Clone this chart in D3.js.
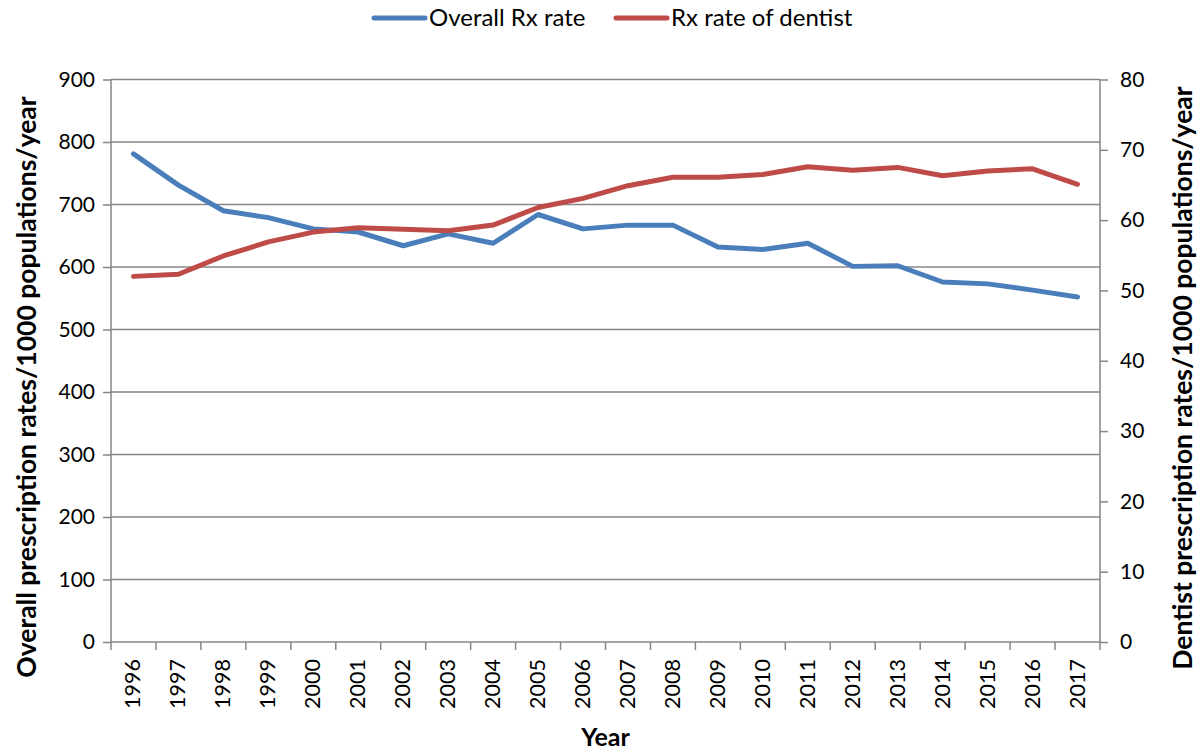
<!DOCTYPE html>
<html>
<head>
<meta charset="utf-8">
<script src="https://cdn.jsdelivr.net/npm/d3@7"></script>
<style>
  body { margin: 0; background: #fff; }
  text { font-family: Lato, "Open Sans", sans-serif; fill: #000; }
</style>
</head>
<body>
<svg id="chart" width="1201" height="755"></svg>
<script>
const years = ["1996","1997","1998","1999","2000","2001","2002","2003","2004","2005","2006",
               "2007","2008","2009","2010","2011","2012","2013","2014","2015","2016","2017"];
const overallRx = [781, 731, 690, 679, 661, 656, 634, 653, 638, 684, 661,
                   667, 667, 632, 628, 638, 601, 602, 576, 573, 563, 552];
const dentistRx = [52.0, 52.3, 54.9, 56.9, 58.3, 58.9, 58.7, 58.5, 59.3, 61.8, 63.1,
                   64.9, 66.1, 66.1, 66.5, 67.6, 67.1, 67.5, 66.3, 67.0, 67.3, 65.1];
const leftTicks = [0, 100, 200, 300, 400, 500, 600, 700, 800, 900];
const rightTicks = [0, 10, 20, 30, 40, 50, 60, 70, 80];

const blue = "#4a7ebb", red = "#be4b48", axisGrey = "#868686";
const margin = {left: 111, right: 101, top: 79.5, bottom: 113};
const w = 1201 - margin.left - margin.right;
const h = 755 - margin.top - margin.bottom;

let svg = d3.select("#chart");
let g = svg.append("g")
    .attr("transform", "translate(" + margin.left + "," + margin.top + ")");

var x = d3.scaleBand().domain(years).range([0, w]);
var yL = d3.scaleLinear().domain([0, 900]).range([h, 0]);
var yR = d3.scaleLinear().domain([0, 80]).range([h, 0]);

// gridlines
g.selectAll(".grid")
    .data(leftTicks.filter(d => d > 0))
    .enter().append("line")
    .attr("x1", 0).attr("x2", w)
    .attr("y1", d => yL(d)).attr("y2", d => yL(d))
    .attr("stroke", axisGrey).attr("stroke-width", 1.5);

// left axis
let la = g.append("g")
    .call(d3.axisLeft(yL).tickValues(leftTicks).tickSize(8).tickPadding(8));
la.select(".domain").remove();
la.selectAll("line").attr("stroke", axisGrey).attr("stroke-width", 1.5);
la.selectAll("text").style("font-size", "21px");
g.append("line").attr("x1", 0).attr("x2", 0).attr("y1", 0).attr("y2", h)
    .attr("stroke", axisGrey).attr("stroke-width", 1.5);

// right axis
let ra = g.append("g")
    .attr("transform", "translate(" + w + ",0)")
    .call(d3.axisRight(yR).tickValues(rightTicks).tickSize(8).tickPadding(12));
ra.select(".domain").remove();
ra.selectAll("line").attr("stroke", axisGrey).attr("stroke-width", 1.5);
ra.selectAll("text").style("font-size", "21px");
g.append("line").attr("x1", w).attr("x2", w).attr("y1", 0).attr("y2", h)
    .attr("stroke", axisGrey).attr("stroke-width", 1.5);

// bottom axis with ticks at category boundaries
let bx = g.append("g").attr("transform", "translate(0," + h + ")");
bx.append("line").attr("x1", 0).attr("x2", w).attr("y1", 0).attr("y2", 0)
    .attr("stroke", axisGrey).attr("stroke-width", 1.5);
bx.selectAll(".tk")
    .data(years.concat(["end"]))
    .enter().append("line")
    .attr("x1", (d, i) => i < years.length ? x(d) : w)
    .attr("x2", (d, i) => i < years.length ? x(d) : w)
    .attr("y1", 0).attr("y2", 8)
    .attr("stroke", axisGrey).attr("stroke-width", 1.5);
bx.selectAll(".lbl")
    .data(years)
    .enter().append("text")
    .attr("transform", d => "translate(" + (x(d) + x.bandwidth() / 2 + 7) + ",17) rotate(-90)")
    .attr("text-anchor", "end")
    .style("font-size", "21.5px")
    .text(d => d);

// lines
var lineL = d3.line()
    .x((d, i) => x(years[i]) + x.bandwidth() / 2)
    .y(d => yL(d));
var lineR = d3.line()
    .x((d, i) => x(years[i]) + x.bandwidth() / 2)
    .y(d => yR(d));

g.append("path").datum(overallRx)
    .attr("fill", "none").attr("stroke", blue).attr("stroke-width", 5)
    .attr("stroke-linejoin", "round").attr("stroke-linecap", "round")
    .attr("d", lineL);
g.append("path").datum(dentistRx)
    .attr("fill", "none").attr("stroke", red).attr("stroke-width", 5)
    .attr("stroke-linejoin", "round").attr("stroke-linecap", "round")
    .attr("d", lineR);

// axis titles
svg.append("text")
    .attr("transform", "translate(36,387) rotate(-90)")
    .attr("text-anchor", "middle")
    .style("font-size", "26.5px").style("font-weight", "bold")
    .text("Overall prescription rates/1000 populations/year");
svg.append("text")
    .attr("transform", "translate(1192,378) rotate(-90)")
    .attr("text-anchor", "middle")
    .style("font-size", "26.5px").style("font-weight", "bold")
    .text("Dentist prescription rates/1000 populations/year");
svg.append("text")
    .attr("x", margin.left + w / 2).attr("y", 746)
    .attr("text-anchor", "middle")
    .style("font-size", "25px").style("font-weight", "bold")
    .text("Year");

// legend
const legendItems = [
    {name: "Overall Rx rate", color: blue, x: 374},
    {name: "Rx rate of dentist", color: red, x: 616}
];
let lg = svg.selectAll(".legend").data(legendItems).enter().append("g")
    .attr("transform", d => "translate(" + d.x + ",18)");
lg.append("line").attr("x1", 0).attr("x2", 51).attr("y1", 0).attr("y2", 0)
    .attr("stroke", d => d.color).attr("stroke-width", 5).attr("stroke-linecap", "round");
lg.append("text").attr("x", 55).attr("y", 8)
    .style("font-size", "24px")
    .text(d => d.name);
</script>
</body>
</html>
